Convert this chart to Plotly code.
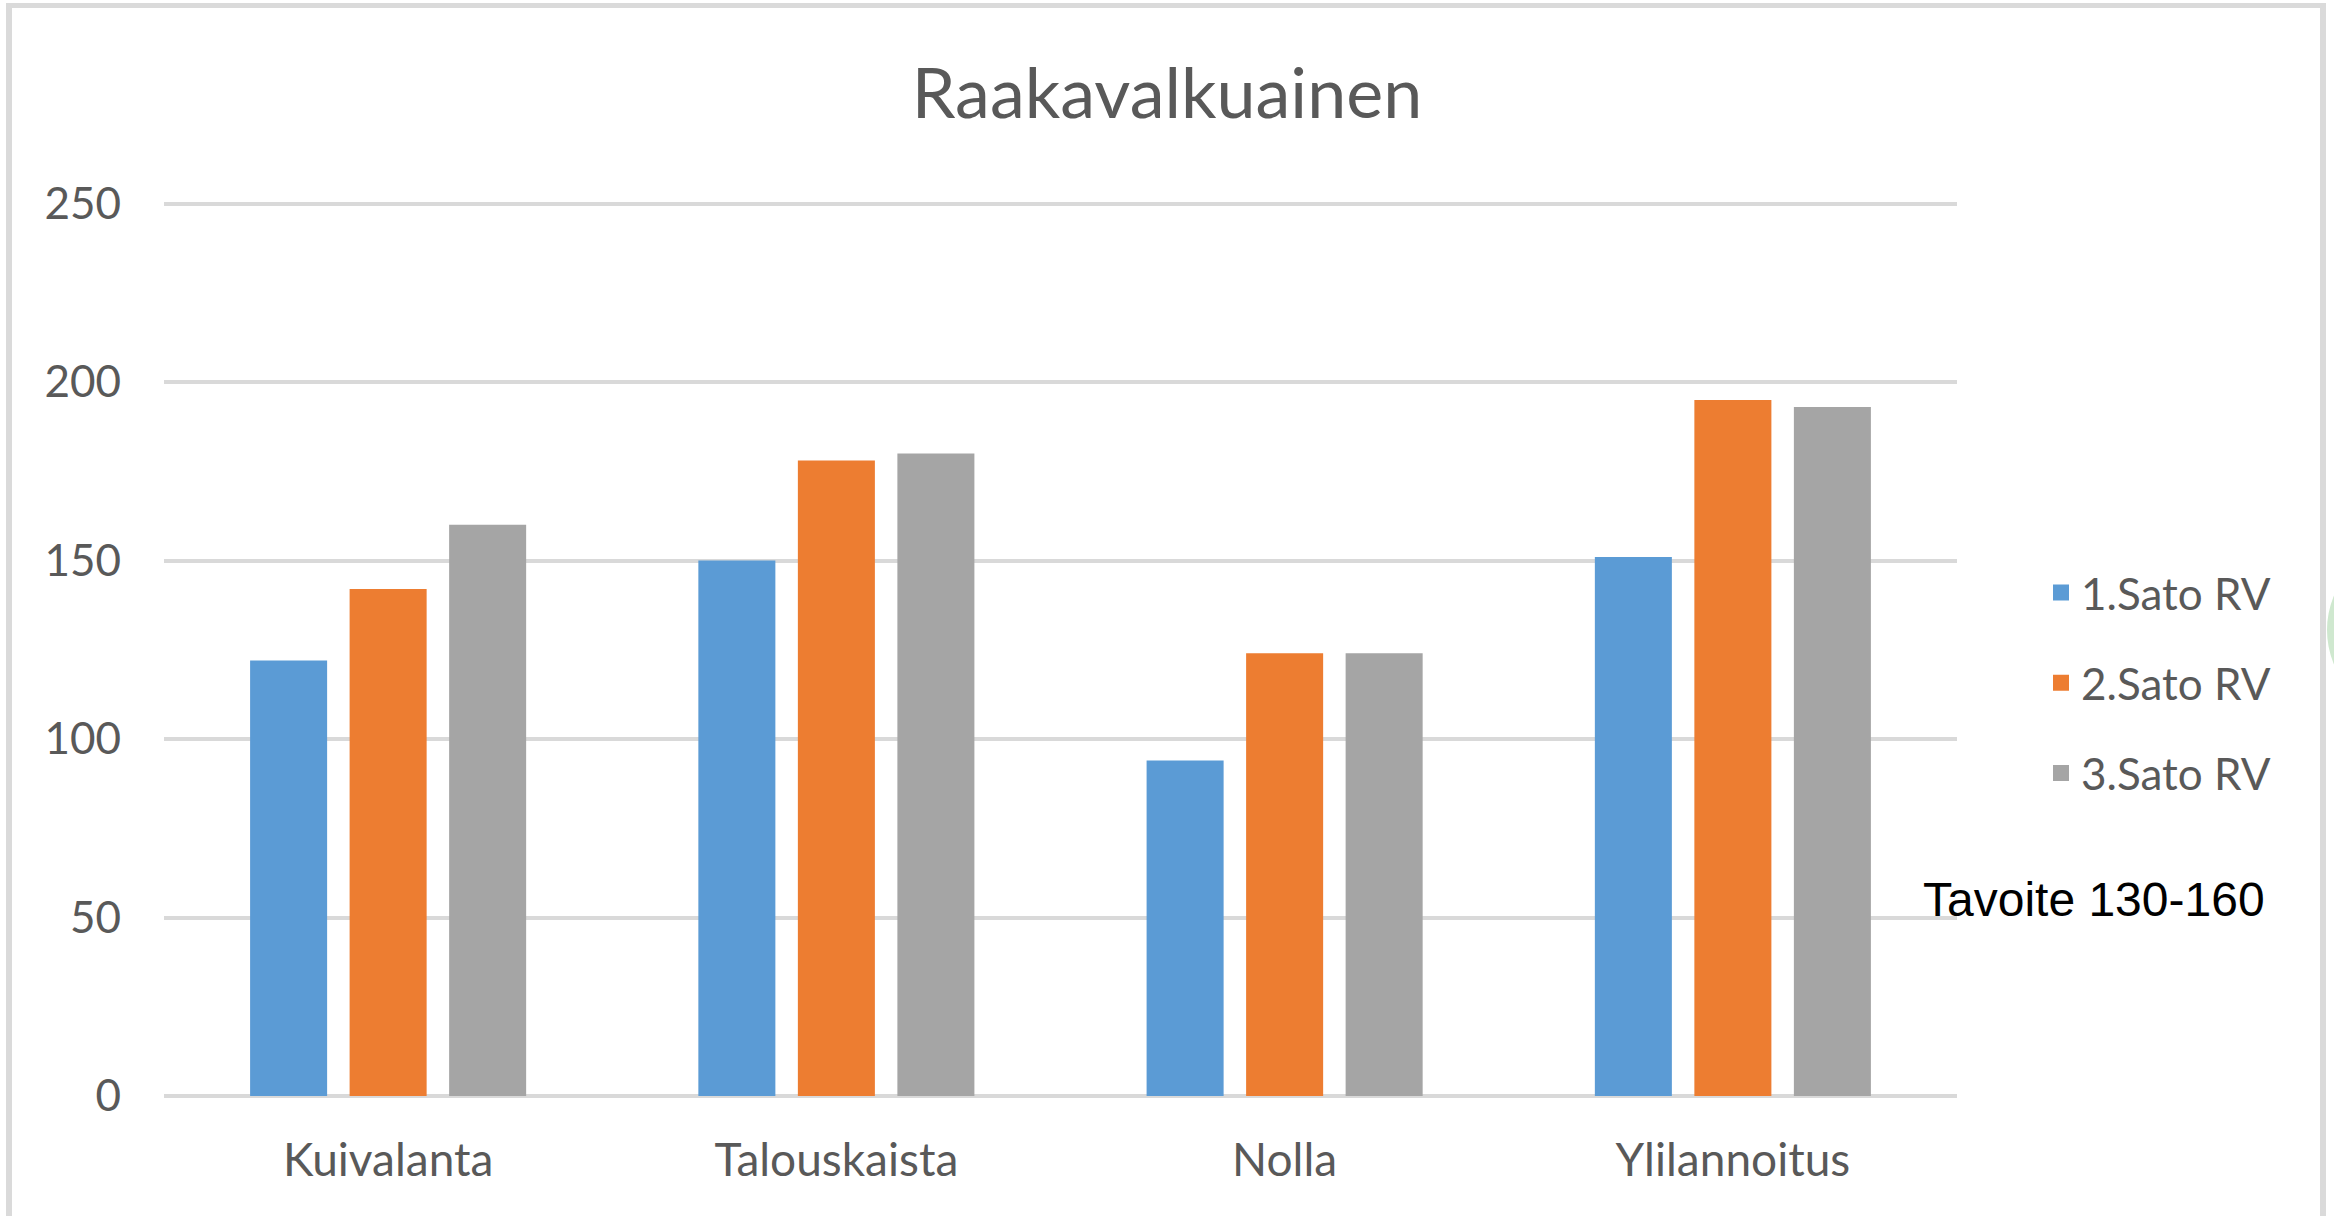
import plotly.graph_objects as go

categories = ["Kuivalanta", "Talouskaista", "Nolla", "Ylilannoitus"]
series_names = ["1.Sato RV", "2.Sato RV", "3.Sato RV"]
sato1 = [122, 150, 94, 151]
sato2 = [142, 178, 124, 195]
sato3 = [160, 180, 124, 193]
colors = ["#5b9bd5", "#ed7d31", "#a5a5a5"]
y_ticks = [0, 50, 100, 150, 200, 250]
y_max = 251
title_text = "Raakavalkuainen"
note_text = "Tavoite 130-160"

W, H = 2334, 1216
L, R, T, B = 164, 2334 - 1957, 200, 1216 - 1096
PW, PH = W - L - R, H - T - B

def px_x(x):
    return (x - L) / PW

def px_y(y):
    return (H - B - y) / PH

fig = go.Figure()
for name, vals, col in zip(series_names, [sato1, sato2, sato3], colors):
    fig.add_trace(go.Bar(
        x=categories, y=vals, name=name,
        marker=dict(color=col, line=dict(width=0)),
        legendgroup=name, showlegend=False,
    ))
# legend entries with square swatches
for name, col in zip(series_names, colors):
    fig.add_trace(go.Scatter(
        x=[None], y=[None], mode="markers", name=name, legendgroup=name,
        marker=dict(symbol="square", size=26, color=col), hoverinfo="skip",
    ))

tick_font = dict(family="Lato, Carlito, Calibri, sans-serif", size=44, color="#595959")
xtick_font = dict(family="Lato, Carlito, Calibri, sans-serif", size=46, color="#595959")

fig.update_layout(
    width=W, height=H,
    margin=dict(l=L, r=R, t=T, b=B),
    paper_bgcolor="white", plot_bgcolor="white",
    barmode="group", bargap=0.334, bargroupgap=0.226,
    title=dict(text=title_text, x=0.5, xref="container", xanchor="center",
               y=1 - 93 / H, yref="container", yanchor="middle",
               font=dict(family="Lato, Carlito, Calibri, sans-serif", size=70, color="#595959")),
    xaxis=dict(showgrid=False, showline=False, zeroline=False, ticks="",
               tickfont=xtick_font, ticklabelstandoff=33),
    yaxis=dict(range=[0, y_max], tickvals=y_ticks, showgrid=True, gridcolor="#d9d9d9",
               gridwidth=4, zeroline=True, zerolinecolor="#d9d9d9", zerolinewidth=4,
               showline=False, ticks="", tickfont=tick_font, ticklabelstandoff=42),
    legend=dict(x=px_x(2041), xanchor="left", y=px_y(683), yanchor="middle",
                font=tick_font, traceorder="grouped", tracegroupgap=30,
                bgcolor="rgba(0,0,0,0)", itemclick=False),
    showlegend=True,
    annotations=[dict(text=note_text, xref="paper", yref="paper",
                      x=px_x(2267), y=px_y(899), xanchor="right", yanchor="middle",
                      showarrow=False,
                      font=dict(family="Liberation Sans, Arial, sans-serif", size=48, color="black"))],
    shapes=[
        dict(type="circle", xref="paper", yref="paper", x0=px_x(2327), x1=px_x(3000),
             y0=px_y(460), y1=px_y(800), fillcolor="#cfe8cf", line=dict(width=0), layer="above"),
        dict(type="line", xref="paper", yref="paper", x0=px_x(9), x1=px_x(9),
             y0=px_y(3), y1=px_y(H + 5), line=dict(color="#dadada", width=6)),
        dict(type="line", xref="paper", yref="paper", x0=px_x(6), x1=px_x(2326),
             y0=px_y(5.5), y1=px_y(5.5), line=dict(color="#dadada", width=5)),
        dict(type="line", xref="paper", yref="paper", x0=px_x(2323), x1=px_x(2323),
             y0=px_y(3), y1=px_y(H + 5), line=dict(color="#dadada", width=6)),
    ],
)

fig.write_html("out.html", config={"displayModeBar": False},
               post_script="document.body.style.margin='0';")
